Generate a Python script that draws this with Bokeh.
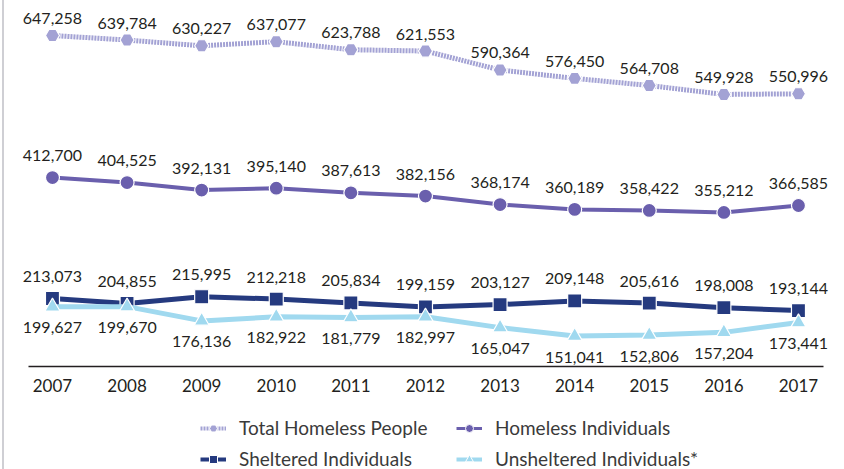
from bokeh.plotting import figure
from bokeh.layouts import column
from bokeh.models import (ColumnDataSource, Range1d, FixedTicker, Legend, LegendItem, LabelSet)
from bokeh.core.properties import value
from bokeh.embed import file_html
from bokeh.resources import INLINE

years = [2007, 2008, 2009, 2010, 2011, 2012, 2013, 2014, 2015, 2016, 2017]
total_people = [647258, 639784, 630227, 637077, 623788, 621553, 590364, 576450, 564708, 549928, 550996]
individuals = [412700, 404525, 392131, 395140, 387613, 382156, 368174, 360189, 358422, 355212, 366585]
sheltered = [213073, 204855, 215995, 212218, 205834, 199159, 203127, 209148, 205616, 198008, 193144]
unsheltered = [199627, 199670, 176136, 182922, 181779, 182997, 165047, 151041, 152806, 157204, 173441]

series_names = ["Total Homeless People", "Homeless Individuals",
                "Sheltered Individuals", "Unsheltered Individuals*"]

FONT = "Lato"
TXT = "#231f20"

p = figure(width=840, height=406, output_backend="svg", toolbar_location=None,
           x_range=Range1d(2006.357, 2017.617), y_range=Range1d(100843, 705036),
           min_border_left=0, min_border_right=0, min_border_top=0, min_border_bottom=40)

p.xgrid.visible = False
p.ygrid.visible = False
p.yaxis.visible = False
p.outline_line_color = None

ax = p.xaxis[0]
ax.ticker = FixedTicker(ticks=years)
ax.bounds = (2006.678, 2017.335)
ax.major_tick_line_color = None
ax.minor_tick_line_color = None
ax.major_tick_out = 0
ax.major_tick_in = 0
ax.axis_line_color = TXT
ax.axis_line_width = 1.5
ax.major_label_standoff = 12
ax.major_label_text_font = FONT
ax.major_label_text_font_size = "17px"
ax.major_label_text_color = TXT

def fmt(vals):
    return ["{:,}".format(v) for v in vals]

styles = [
    (total_people, "#a3a2d4", "hex", 14, "2 1", 5, 17),
    (individuals, "#6a5fad", "circle", 14, "solid", 4, 22),
    (sheltered, "#253a7f", "square", 14, "solid", 5, 22),
    (unsheltered, "#a0d9ef", "triangle", 15, "solid", 5, -21),
]

# separate strip holding the legend; its swatch renderers share the series sources
# but lie outside that strip's view, so only the legend swatches show
pl = figure(width=840, height=63, output_backend="svg", toolbar_location=None,
            x_range=Range1d(0, 1), y_range=Range1d(0, 1),
            min_border_left=0, min_border_right=0, min_border_top=0, min_border_bottom=0)
pl.axis.visible = False
pl.grid.visible = False
pl.outline_line_color = None

items = []
for (vals, color, marker, size, dash, lw, yoff), name in zip(styles, series_names):
    src = ColumnDataSource(dict(x=years, y=vals, lbl=fmt(vals)))
    p.line("x", "y", source=src, line_color=color, line_width=lw, line_dash=dash)
    p.scatter("x", "y", source=src, marker=marker, size=size, fill_color=color,
              line_color="white", line_width=1.2)
    labels = LabelSet(x="x", y="y", text="lbl", source=src, y_offset=yoff,
                      text_align="center", text_baseline="middle",
                      text_font=value(FONT), text_font_size=value("16px"),
                      text_color=TXT)
    p.add_layout(labels)

    ln = pl.line("x", "y", source=src, line_color=color, line_width=lw - 1, line_dash=dash)
    sc = pl.scatter("x", "y", source=src, marker=marker, size=size - 2, fill_color=color,
                    line_color="white", line_width=1)
    items.append(LegendItem(label=name, renderers=[ln, sc]))

legend = Legend(items=items, orientation="horizontal", ncols=2,
                location=(196, -1), border_line_color=None, background_fill_alpha=0,
                label_text_font=FONT, label_text_font_size="19px", label_text_color="#3a3a3a",
                glyph_width=26, glyph_height=20, label_height=20, label_width=209,
                label_standoff=13, spacing=8, padding=0, margin=0)
pl.add_layout(legend, "center")

layout = column(p, pl, spacing=0)
layout.styles = {"border-left": "2px solid #cfcfd4", "margin-left": "2px"}

open("out.html", "w").write(file_html(layout, INLINE))
